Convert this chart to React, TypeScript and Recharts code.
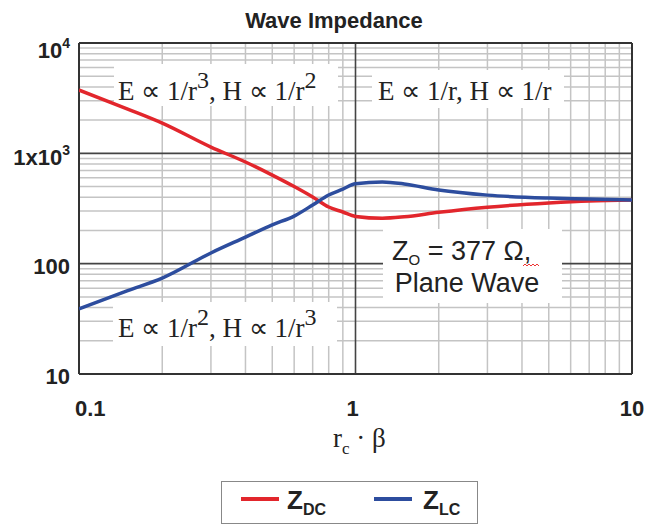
import React from 'react';
import { LineChart, Line, XAxis, YAxis, ReferenceLine, Legend } from 'recharts';

const xValues = [0.1, 0.15, 0.2, 0.3, 0.4, 0.5, 0.6, 0.7, 0.8, 0.9, 1, 1.25, 1.5, 2, 3, 5, 7, 10];
const zDC = [3750, 2520, 1880, 1140, 834, 635, 500, 402, 326, 294, 268, 258, 266, 292, 325, 355, 370, 377];
const zLC = [39, 57, 74, 125, 174, 225, 270, 340, 419, 474, 530, 550, 528, 465, 418, 393, 385, 378];

const xTicks = [0.1, 1, 10];
const yTicks = [10, 100, 1000, 10000];
const xMinor = [0.2, 0.3, 0.4, 0.5, 0.6, 0.7, 0.8, 0.9, 2, 3, 4, 5, 6, 7, 8, 9];
const yMinor = [20, 30, 40, 50, 60, 70, 80, 90, 200, 300, 400, 500, 600, 700, 800, 900, 2000, 3000, 4000, 5000, 6000, 7000, 8000, 9000];
const xMajorInner = [1];
const yMajorInner = [100, 1000];

const data = xValues.map((x, i) => ({ x, zdc: zDC[i], zlc: zLC[i] }));

const SANS = '"Liberation Sans", Arial, sans-serif';
const SERIF = '"Liberation Serif", "Times New Roman", serif';
const RED = '#e2262c';
const BLUE = '#2d4d9e';
const MINOR = '#c4c4c4';
const MAJOR = '#444';
const W = 645;
const H = 524;
const MARGIN = { top: 43, right: 13, bottom: 90, left: 0 };

const XTick = (props: any) => {
  const { x, y, payload } = props;
  const v = payload.value;
  let anchor: any = 'middle';
  let tx = x;
  if (v === 0.1) { anchor = 'start'; tx = x - 4; }
  if (v === 1) { tx = x - 3; }
  return (
    <text x={tx} y={y + 34} textAnchor={anchor} fontFamily={SANS} fontWeight="bold" fontSize={22} fill="#222">
      {String(v)}
    </text>
  );
};

const YTick = (props: any) => {
  const { y, payload } = props;
  const v = payload.value;
  const rx = 70;
  if (v === 10000) {
    return (
      <text x={rx} y={y + 15} textAnchor="end" fontFamily={SANS} fontWeight="bold" fontSize={22} fill="#222">
        10<tspan fontSize={14} dy={-10}>4</tspan>
      </text>
    );
  }
  if (v === 1000) {
    return (
      <text x={rx} y={y + 12} textAnchor="end" fontFamily={SANS} fontWeight="bold" fontSize={22} fill="#222">
        1x10<tspan fontSize={14} dy={-10}>3</tspan>
      </text>
    );
  }
  return (
    <text x={rx} y={y + 10} textAnchor="end" fontFamily={SANS} fontWeight="bold" fontSize={22} fill="#222">
      {String(v)}
    </text>
  );
};

const Overlay = () => (
  <svg width={W} height={H} style={{ position: 'absolute', left: 0, top: 0, pointerEvents: 'none' }}>
    <rect x={114} y={64} width={224} height={42} fill="#fff" />
    <text x={118} y={100} fontFamily={SERIF} fontSize={27} fill="#222">
      E ∝ 1/r<tspan dy={-12} fontSize={24}>3</tspan><tspan dy={12}>, H ∝ 1/r</tspan><tspan dy={-12} fontSize={24}>2</tspan>
    </text>
    <rect x={372} y={70} width={192} height={38} fill="#fff" />
    <text x={378} y={100} fontFamily={SERIF} fontSize={27} fill="#222">E ∝ 1/r, H ∝ 1/r</text>
    <rect x={113} y={302} width={224} height={44} fill="#fff" />
    <text x={118} y={337} fontFamily={SERIF} fontSize={27} fill="#222">
      E ∝ 1/r<tspan dy={-12} fontSize={24}>2</tspan><tspan dy={12}>, H ∝ 1/r</tspan><tspan dy={-12} fontSize={24}>3</tspan>
    </text>
    <rect x={383} y={229} width={179} height={74} fill="#fff" />
    <text x={392} y={260} fontFamily={SANS} fontSize={27} fill="#222">
      Z<tspan fontSize={15} dy={5}>O</tspan><tspan dy={-5}> = 377 Ω,</tspan>
    </text>
    <path d="M523 266 l2 -2 l2 2 l2 -2 l2 2 l2 -2 l2 2 l2 -2 l2 2" stroke="#e33" strokeWidth={1} fill="none" />
    <text x={467} y={292} textAnchor="middle" fontFamily={SANS} fontSize={27} fill="#222">Plane Wave</text>
    <text x={334} y={28} textAnchor="middle" fontFamily={SANS} fontWeight="bold" fontSize={22} fill="#222">Wave Impedance</text>
    <text x={333} y={447} fontFamily={SERIF} fontSize={27} fill="#222">
      r<tspan fontSize={17} dy={7}>c</tspan><tspan dy={-7}> · β</tspan>
    </text>
  </svg>
);

const LegendContent = () => (
  <svg width={258} height={44} style={{ display: 'block' }}>
    <rect x={0.5} y={0.5} width={256} height={42} fill="#fff" stroke="#888" strokeWidth={1} />
    <line x1={20} y1={18} x2={58} y2={18} stroke={RED} strokeWidth={4} />
    <text x={66} y={28} fontFamily={SANS} fontWeight="bold" fontSize={26} fill="#222">
      Z<tspan fontSize={16} dy={6}>DC</tspan>
    </text>
    <line x1={153} y1={18} x2={191} y2={18} stroke={BLUE} strokeWidth={4} />
    <text x={202} y={28} fontFamily={SANS} fontWeight="bold" fontSize={26} fill="#222">
      Z<tspan fontSize={16} dy={6}>LC</tspan>
    </text>
  </svg>
);

export default function App() {
  return (
    <div style={{ position: 'absolute', left: 0, top: 0, width: W, height: H, background: '#fff' }}>
      <div style={{ position: 'absolute', left: 0, top: 0 }}>
        <LineChart width={W} height={H} data={data} margin={MARGIN}>
          <XAxis dataKey="x" type="number" scale="log" domain={[0.1, 10]} ticks={xTicks} tick={<XTick />} tickLine={false} axisLine={false} allowDataOverflow height={60} interval={0} />
          <YAxis type="number" scale="log" domain={[10, 10000]} ticks={yTicks} tick={<YTick />} tickLine={false} axisLine={false} allowDataOverflow width={79} interval={0} />
          {xMinor.map((v) => (
            <ReferenceLine key={'xm' + v} x={v} stroke={MINOR} strokeWidth={1.5} />
          ))}
          {yMinor.map((v) => (
            <ReferenceLine key={'ym' + v} y={v} stroke={MINOR} strokeWidth={1.5} />
          ))}
          {xMajorInner.map((v) => (
            <ReferenceLine key={'xM' + v} x={v} stroke={MAJOR} strokeWidth={1.6} />
          ))}
          {yMajorInner.map((v) => (
            <ReferenceLine key={'yM' + v} y={v} stroke={MAJOR} strokeWidth={1.6} />
          ))}
          <ReferenceLine x={0.1} stroke="#333" strokeWidth={2} />
          <ReferenceLine x={10} stroke="#333" strokeWidth={2} />
          <ReferenceLine y={10} stroke="#333" strokeWidth={2} />
          <ReferenceLine y={10000} stroke="#333" strokeWidth={2} />
          <Legend layout="horizontal" verticalAlign="middle" align="center" content={<LegendContent />} wrapperStyle={{ position: 'absolute', left: 221, top: 481, width: 258, height: 44 }} />
        </LineChart>
      </div>
      <Overlay />
      <div style={{ position: 'absolute', left: 0, top: 0, pointerEvents: 'none' }}>
        <LineChart width={W} height={H} data={data} margin={{ top: 43, right: 13, bottom: 150, left: 79 }}>
          <XAxis dataKey="x" type="number" scale="log" domain={[0.1, 10]} allowDataOverflow hide />
          <YAxis type="number" scale="log" domain={[10, 10000]} allowDataOverflow hide />
          <Line type="monotone" dataKey="zdc" stroke={RED} strokeWidth={3.5} dot={false} isAnimationActive={false} />
          <Line type="monotone" dataKey="zlc" stroke={BLUE} strokeWidth={3.5} dot={false} isAnimationActive={false} />
        </LineChart>
      </div>
    </div>
  );
}
